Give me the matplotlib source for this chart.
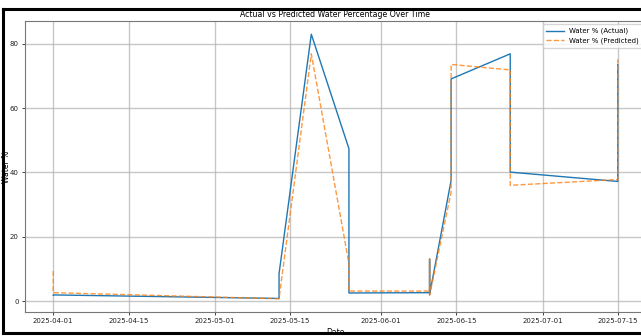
import matplotlib
matplotlib.use("Agg")
import matplotlib.pyplot as plt
import matplotlib.dates as mdates
from matplotlib.lines import Line2D
import pandas as pd

dates = ["2025-04-01", "2025-04-01", "2025-05-13", "2025-05-13", "2025-05-19",
         "2025-05-26", "2025-05-26", "2025-06-10", "2025-06-10", "2025-06-10",
         "2025-06-14", "2025-06-14", "2025-06-25", "2025-06-25", "2025-07-15",
         "2025-07-15"]
actual = [1.8, 1.9, 0.8, 8.5, 83.0, 47.4, 2.5, 2.6, 13.0, 2.0, 37.5, 69.1,
          76.9, 40.1, 37.2, 73.5]
predicted = [9.3, 2.6, 0.7, 0.8, 76.9, 11.6, 3.1, 3.1, 13.2, 1.8, 33.9, 73.6,
             71.9, 36.0, 37.8, 75.2]
tick_dates = ["2025-04-01", "2025-04-15", "2025-05-01", "2025-05-15",
              "2025-06-01", "2025-06-15", "2025-07-01", "2025-07-15"]

x = pd.to_datetime(dates)

fig = plt.figure(figsize=(6.41, 3.36), dpi=100)
W, H = 641, 336
ax = fig.add_axes([25 / W, 1 - 312 / H, (646 - 25) / W, (312 - 21) / H])

ax.plot(x, actual, color="#1f77b4", lw=1.0, label="Water % (Actual)")
ax.plot(x, predicted, color="#ff7f0e", lw=1.0, ls="--", alpha=0.8,
        label="Water % (Predicted)")

ax.set_xticks(pd.to_datetime(tick_dates))
ax.xaxis.set_major_formatter(mdates.DateFormatter("%Y-%m-%d"))
ax.set_yticks([0, 20, 40, 60, 80])
ax.tick_params(labelsize=5, length=2.5, width=0.6, pad=2, colors="#222222")
ax.grid(True, color="#b0b0b0", lw=1.0, alpha=0.7)
for s in ax.spines.values():
    s.set_color("#777777")
    s.set_linewidth(0.8)

ax.set_title("Actual vs Predicted Water Percentage Over Time", fontsize=5.6, pad=3)
ax.set_xlabel("Date", fontsize=5.5, labelpad=3)
ax.set_ylabel("Water %", fontsize=5.5)
ax.yaxis.set_label_coords((11 - 25) / (646 - 25), 0.5)
ax.legend(loc="upper right", fontsize=5, framealpha=0.8, handlelength=2.5,
          borderpad=0.5, labelspacing=0.5)

# outer black frame
lw = 2.2
fig.add_artist(Line2D([3 / W, 3 / W], [1 - 8.5 / H, 1 - 333 / H], color="black", lw=lw))
fig.add_artist(Line2D([3 / W, 1.01], [1 - 8.5 / H, 1 - 8.5 / H], color="black", lw=lw))
fig.add_artist(Line2D([3 / W, 1.01], [1 - 333 / H, 1 - 333 / H], color="black", lw=lw))

fig.savefig("out.png", dpi=100)
